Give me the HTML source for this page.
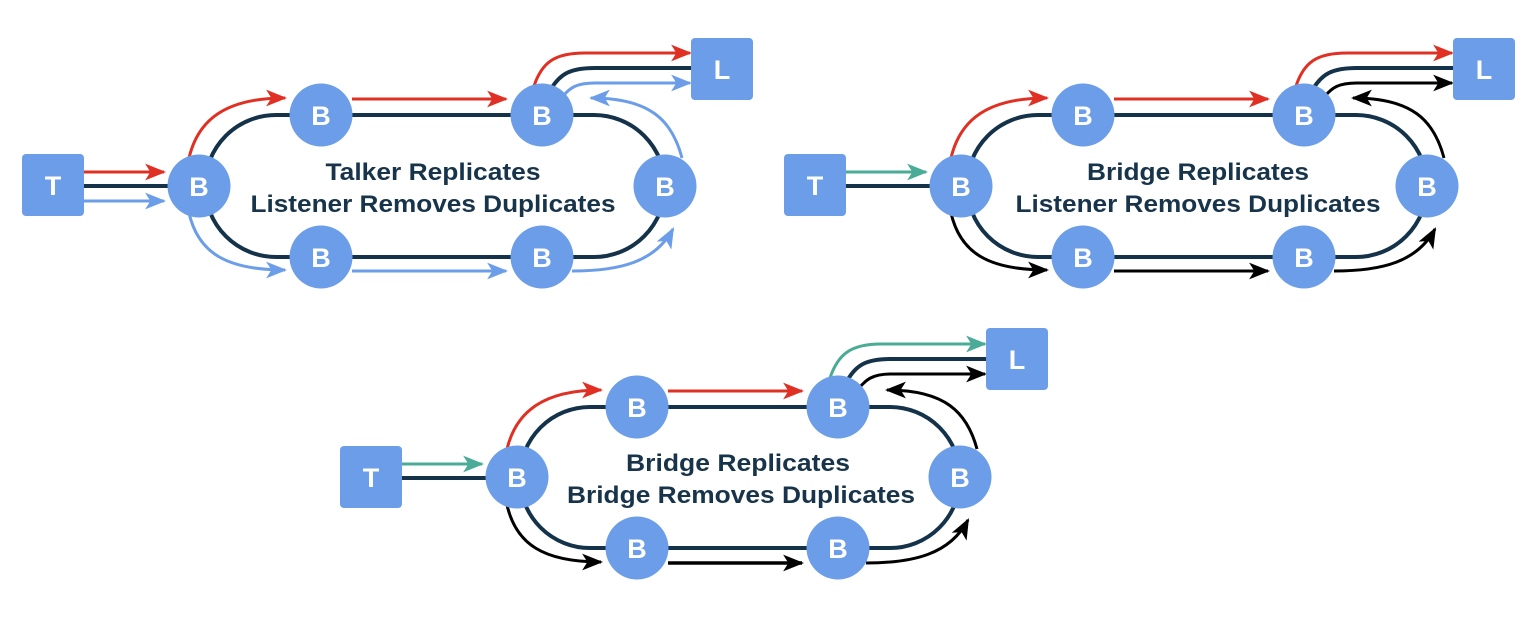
<!DOCTYPE html>
<html><head><meta charset="utf-8"><style>
html,body{margin:0;padding:0;background:#fff;}
svg{display:block;}
text{font-family:"Liberation Sans",sans-serif;font-weight:bold;}
</style></head><body>
<svg width="1538" height="618" viewBox="0 0 1538 618" xmlns="http://www.w3.org/2000/svg">
<defs>
<marker id="ar" viewBox="0 0 20 16" markerWidth="21" markerHeight="17" refX="18" refY="8" orient="auto" markerUnits="userSpaceOnUse"><path d="M0,0 L20,8 L0,16 L5,8 z" fill="#e03024"/></marker>
<marker id="ab" viewBox="0 0 20 16" markerWidth="21" markerHeight="17" refX="18" refY="8" orient="auto" markerUnits="userSpaceOnUse"><path d="M0,0 L20,8 L0,16 L5,8 z" fill="#6b9de8"/></marker>
<marker id="at" viewBox="0 0 20 16" markerWidth="21" markerHeight="17" refX="18" refY="8" orient="auto" markerUnits="userSpaceOnUse"><path d="M0,0 L20,8 L0,16 L5,8 z" fill="#4aab96"/></marker>
<marker id="ak" viewBox="0 0 20 16" markerWidth="21" markerHeight="17" refX="18" refY="8" orient="auto" markerUnits="userSpaceOnUse"><path d="M0,0 L20,8 L0,16 L5,8 z" fill="#000"/></marker>
</defs>

<!-- Diagram 1 -->
<g>
<rect x="205" y="115" width="460" height="142" rx="71" fill="none" stroke="#14334a" stroke-width="4"/>
<line x1="84" y1="186" x2="170" y2="186" stroke="#14334a" stroke-width="4"/>
<line x1="84" y1="172" x2="164" y2="172" stroke="#e03024" stroke-width="3" marker-end="url(#ar)"/>
<line x1="84" y1="201" x2="164" y2="201" stroke="#6b9de8" stroke-width="3" marker-end="url(#ab)"/>
<path d="M189,158 C198,120 225,98 285,98" fill="none" stroke="#e03024" stroke-width="3" marker-end="url(#ar)"/>
<line x1="352" y1="99" x2="506" y2="99" stroke="#e03024" stroke-width="3" marker-end="url(#ar)"/>
<path d="M534,86 C542,62 555,53 585,53 L690,53" fill="none" stroke="#e03024" stroke-width="3" marker-end="url(#ar)"/>
<path d="M551,89 C560,74 570,68 595,68 L692,68" fill="none" stroke="#14334a" stroke-width="4"/>
<path d="M563,96 C570,88 576,83 595,83 L690,83" fill="none" stroke="#6b9de8" stroke-width="3" marker-end="url(#ab)"/>
<path d="M682,158 C672,120 650,98 591,98" fill="none" stroke="#6b9de8" stroke-width="3" marker-end="url(#ab)"/>
<path d="M189,213 C198,252 225,270 285,270" fill="none" stroke="#6b9de8" stroke-width="3" marker-end="url(#ab)"/>
<line x1="352" y1="271" x2="506" y2="271" stroke="#6b9de8" stroke-width="3" marker-end="url(#ab)"/>
<path d="M572,271 C620,271 655,262 673,229" fill="none" stroke="#6b9de8" stroke-width="3" marker-end="url(#ab)"/>
<rect x="22" y="154" width="62" height="62" rx="4" fill="#6b9de8"/>
<rect x="691" y="38" width="62" height="62" rx="4" fill="#6b9de8"/>
<g fill="#6b9de8"><circle cx="199" cy="186" r="31.5"/><circle cx="321" cy="115" r="31.5"/><circle cx="542" cy="115" r="31.5"/><circle cx="665" cy="186" r="31.5"/><circle cx="321" cy="257" r="31.5"/><circle cx="542" cy="257" r="31.5"/></g>
<g fill="#fff" font-size="27" text-anchor="middle">
<text x="53" y="195">T</text><text x="722" y="79">L</text>
<text x="199" y="196">B</text><text x="321" y="125">B</text><text x="542" y="125">B</text><text x="665" y="196">B</text><text x="321" y="267">B</text><text x="542" y="267">B</text></g>
<g fill="#17344a" font-size="24" text-anchor="middle"><text x="433" y="180" textLength="215" lengthAdjust="spacingAndGlyphs">Talker Replicates</text><text x="433" y="212" textLength="365" lengthAdjust="spacingAndGlyphs">Listener Removes Duplicates</text></g>
</g>

<!-- Diagram 2 -->
<g transform="translate(762,0)">
<rect x="205" y="115" width="460" height="142" rx="71" fill="none" stroke="#14334a" stroke-width="4"/>
<line x1="84" y1="186" x2="170" y2="186" stroke="#14334a" stroke-width="4"/>
<line x1="84" y1="172" x2="164" y2="172" stroke="#4aab96" stroke-width="3" marker-end="url(#at)"/>
<path d="M189,158 C198,120 225,98 285,98" fill="none" stroke="#e03024" stroke-width="3" marker-end="url(#ar)"/>
<line x1="352" y1="99" x2="506" y2="99" stroke="#e03024" stroke-width="3" marker-end="url(#ar)"/>
<path d="M534,86 C542,62 555,53 585,53 L690,53" fill="none" stroke="#e03024" stroke-width="3" marker-end="url(#ar)"/>
<path d="M551,89 C560,74 570,68 595,68 L692,68" fill="none" stroke="#14334a" stroke-width="4"/>
<path d="M563,96 C570,88 576,83 595,83 L690,83" fill="none" stroke="#000" stroke-width="3" marker-end="url(#ak)"/>
<path d="M682,158 C672,120 650,98 591,98" fill="none" stroke="#000" stroke-width="3" marker-end="url(#ak)"/>
<path d="M189,213 C198,252 225,270 285,270" fill="none" stroke="#000" stroke-width="3" marker-end="url(#ak)"/>
<line x1="352" y1="271" x2="506" y2="271" stroke="#000" stroke-width="3" marker-end="url(#ak)"/>
<path d="M572,271 C620,271 655,262 673,229" fill="none" stroke="#000" stroke-width="3" marker-end="url(#ak)"/>
<rect x="22" y="154" width="62" height="62" rx="4" fill="#6b9de8"/>
<rect x="691" y="38" width="62" height="62" rx="4" fill="#6b9de8"/>
<g fill="#6b9de8"><circle cx="199" cy="186" r="31.5"/><circle cx="321" cy="115" r="31.5"/><circle cx="542" cy="115" r="31.5"/><circle cx="665" cy="186" r="31.5"/><circle cx="321" cy="257" r="31.5"/><circle cx="542" cy="257" r="31.5"/></g>
<g fill="#fff" font-size="27" text-anchor="middle">
<text x="53" y="195">T</text><text x="722" y="79">L</text>
<text x="199" y="196">B</text><text x="321" y="125">B</text><text x="542" y="125">B</text><text x="665" y="196">B</text><text x="321" y="267">B</text><text x="542" y="267">B</text></g>
<g fill="#17344a" font-size="24" text-anchor="middle"><text x="436" y="180" textLength="222" lengthAdjust="spacingAndGlyphs">Bridge Replicates</text><text x="436" y="212" textLength="365" lengthAdjust="spacingAndGlyphs">Listener Removes Duplicates</text></g>
</g>

<!-- Diagram 3 -->
<g>
<rect x="520" y="407" width="440" height="141" rx="70" fill="none" stroke="#14334a" stroke-width="4"/>
<line x1="402" y1="478" x2="488" y2="478" stroke="#14334a" stroke-width="4"/>
<line x1="402" y1="464" x2="482" y2="464" stroke="#4aab96" stroke-width="3" marker-end="url(#at)"/>
<path d="M507,449 C516,412 543,390 601,390" fill="none" stroke="#e03024" stroke-width="3" marker-end="url(#ar)"/>
<line x1="668" y1="391" x2="802" y2="391" stroke="#e03024" stroke-width="3" marker-end="url(#ar)"/>
<path d="M830,378 C838,354 851,344 881,344 L985,344" fill="none" stroke="#4aab96" stroke-width="3" marker-end="url(#at)"/>
<path d="M847,381 C856,365 866,359 891,359 L987,359" fill="none" stroke="#14334a" stroke-width="4"/>
<path d="M859,388 C866,380 872,374 891,374 L985,374" fill="none" stroke="#000" stroke-width="3" marker-end="url(#ak)"/>
<path d="M977,449 C967,412 945,390 887,390" fill="none" stroke="#000" stroke-width="3" marker-end="url(#ak)"/>
<path d="M507,505 C516,544 543,562 601,562" fill="none" stroke="#000" stroke-width="3" marker-end="url(#ak)"/>
<line x1="668" y1="563" x2="802" y2="563" stroke="#000" stroke-width="3.5" marker-end="url(#ak)"/>
<path d="M866,563 C914,563 950,554 968,520" fill="none" stroke="#000" stroke-width="3" marker-end="url(#ak)"/>
<rect x="340" y="446" width="62" height="62" rx="4" fill="#6b9de8"/>
<rect x="986" y="328" width="62" height="62" rx="4" fill="#6b9de8"/>
<g fill="#6b9de8"><circle cx="517" cy="477" r="31.5"/><circle cx="637" cy="407" r="31.5"/><circle cx="838" cy="407" r="31.5"/><circle cx="960" cy="477" r="31.5"/><circle cx="637" cy="548" r="31.5"/><circle cx="838" cy="548" r="31.5"/></g>
<g fill="#fff" font-size="27" text-anchor="middle">
<text x="371" y="487">T</text><text x="1017" y="369">L</text>
<text x="517" y="487">B</text><text x="637" y="417">B</text><text x="838" y="417">B</text><text x="960" y="487">B</text><text x="637" y="558">B</text><text x="838" y="558">B</text></g>
<g fill="#17344a" font-size="24" text-anchor="middle"><text x="738" y="471" textLength="224" lengthAdjust="spacingAndGlyphs">Bridge Replicates</text><text x="741" y="503" textLength="348" lengthAdjust="spacingAndGlyphs">Bridge Removes Duplicates</text></g>
</g>
</svg>
</body></html>
